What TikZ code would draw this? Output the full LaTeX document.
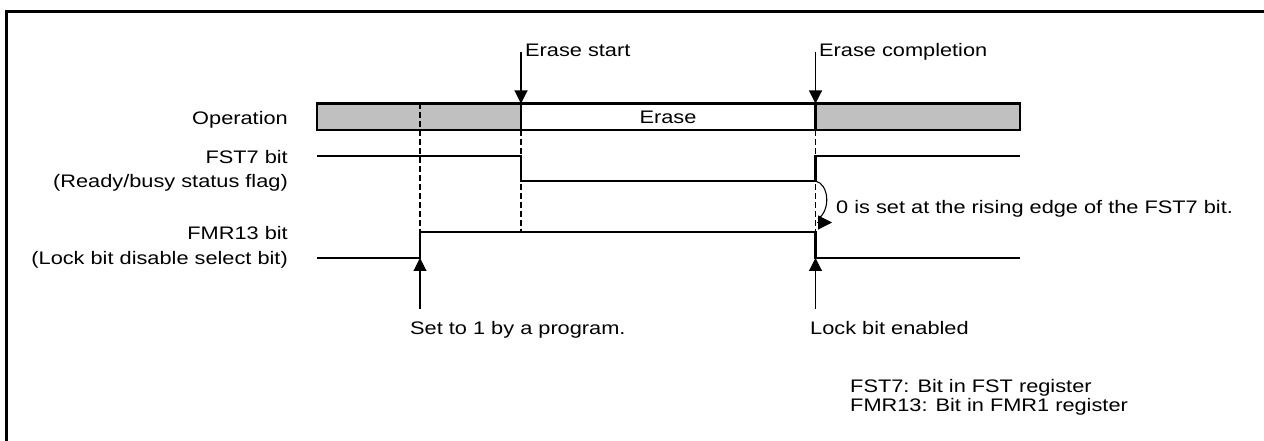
\documentclass[tikz,border=0pt]{standalone}
\usepackage{fontspec}
\setmainfont{Liberation Sans}[FakeStretch=1.2]
\usetikzlibrary{arrows.meta}
\definecolor{bargray}{RGB}{192,192,192}
\begin{document}
\begin{tikzpicture}[x=1bp,y=-1bp,
  lbl/.style={inner sep=0pt, font=\fontsize{18.2}{21}\selectfont},
  sig/.style={line width=2.2bp},
  guide/.style={line width=1.6bp, dash pattern=on 6bp off 3bp},
  marker/.style={line width=1.1bp, -{Triangle[length=13bp,width=13bp]}},
]
\useasboundingbox (0,0) rectangle (1264,441);
% frame
\draw[line width=3bp] (6,441) -- (6,11.5) -- (1264,11.5);

% operation bar
\fill[bargray] (317,103.5) rectangle (521,130);
\fill[bargray] (815.5,103.5) rectangle (1020,130);
\node[lbl] (erase) at (668,117) {Erase};

% guide lines
\draw[guide] (420,103.5) -- (420,232);
\draw[guide] (521,130) -- (521,232);
\draw[guide] (815.5,130) -- (815.5,258);

\draw[sig] (317,103.5) rectangle (1020,130);
\draw[sig] (521,103.5) -- (521,130);
\draw[sig] (815.5,103.5) -- (815.5,130);

% FST7 signal
\draw[sig] (317,156) -- (521,156) -- (521,181) -- (815.5,181) -- (815.5,156) -- (1020,156);
% FMR13 signal
\draw[sig] (317,258) -- (420,258) -- (420,232) -- (815.5,232) -- (815.5,258) -- (1020,258);

% row labels
\node[lbl, anchor=base east] (lop) at (288,124.3) {Operation};
\node[lbl, anchor=base east] (lfst) at (288,164) {FST7 bit};
\node[lbl, anchor=base east] (lfst2) at (288,188) {(Ready/busy status flag)};
\node[lbl, anchor=base east] (lfmr) at (288,240) {FMR13 bit};
\node[lbl, anchor=base east] (lfmr2) at (288,265) {(Lock bit disable select bit)};

% top markers
\coordinate (es0) at (521,52);
\coordinate (es1) at (521,103.5);
\coordinate (ec0) at (815.5,52);
\coordinate (ec1) at (815.5,103.5);
\draw[marker] (es0) -- (es1);
\draw[marker] (ec0) -- (ec1);
\node[lbl, anchor=base west] (tes) at (525,57) {Erase start};
\node[lbl, anchor=base west] (tec) at (819,57) {Erase completion};

% bottom markers
\coordinate (sp0) at (420,309);
\coordinate (sp1) at (420,258);
\coordinate (lb0) at (815.5,309);
\coordinate (lb1) at (815.5,258);
\draw[marker] (sp0) -- (sp1);
\draw[marker] (lb0) -- (lb1);
\node[lbl, anchor=base west] (tsp) at (410,335) {Set to 1 by a program.};
\node[lbl, anchor=base west] (tlb) at (810,335) {Lock bit enabled};

% curved arrow
\coordinate (c0) at (815.5,181);
\coordinate (c1) at (818,219);
\draw[line width=1.1bp] (c0) .. controls (829,184) and (831,210) .. (c1);
\coordinate (h0) at (817,222.5);
\coordinate (h1) at (832,222.5);
\draw[line width=1.1bp, -{Triangle[length=14bp,width=14bp]}] (h0) -- (h1);
\node[lbl, anchor=base west] (tre) at (836,214) {0 is set at the rising edge of the FST7 bit.};

% notes
\node[lbl, anchor=base west] (n1) at (850,393) {FST7: Bit in FST register};
\node[lbl, anchor=base west] (n2) at (850,412) {FMR13: Bit in FMR1 register};
\end{tikzpicture}
\end{document}
